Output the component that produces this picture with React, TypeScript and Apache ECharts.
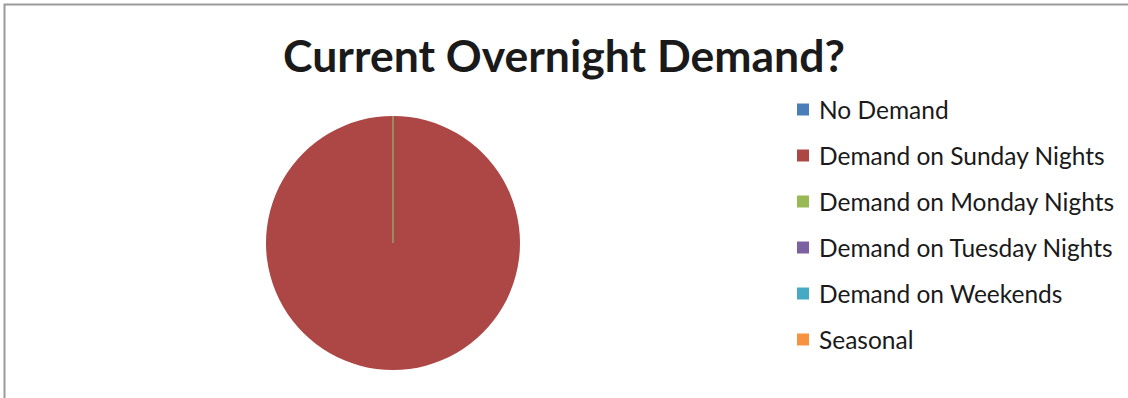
import React, { useEffect, useRef } from "react";
import * as echarts from "echarts";

const titleText = "Current Overnight Demand?";
const categories = [
  "No Demand",
  "Demand on Sunday Nights",
  "Demand on Monday Nights",
  "Demand on Tuesday Nights",
  "Demand on Weekends",
  "Seasonal",
];
const values = [0, 100, 0, 0, 0, 0];
const colors = ["#4A7EBB", "#AD4745", "#98B954", "#7D60A0", "#46AAC5", "#F69240"];

export default function App() {
  const ref = useRef<HTMLDivElement>(null);
  useEffect(() => {
    document.body.style.margin = "0";
    const chart = echarts.init(ref.current!, undefined, { renderer: "svg" });
    chart.setOption({
      animation: false,
      backgroundColor: "#ffffff",
      title: {
        text: titleText,
        left: "center",
        top: 27,
        textStyle: { fontFamily: "Lato", fontWeight: "bold", fontSize: 44.5, color: "#1a1a1a" },
      },
      legend: {
        orient: "vertical",
        left: 797,
        top: 97,
        padding: 0,
        itemWidth: 12,
        itemHeight: 12,
        itemGap: 21,
        icon: "rect",
        itemStyle: { borderWidth: 0 },
        textStyle: { fontFamily: "Lato", fontSize: 24.5, color: "#1a1a1a", padding: [0, 0, 0, 5] },
        data: categories,
      },
      graphic: [
        {
          type: "rect",
          shape: { x: 4.5, y: 4.5, width: 1200, height: 500 },
          style: { fill: "none", stroke: "#9a9a9a", lineWidth: 2 },
          silent: true,
        },
      ],
      series: [
        {
          type: "pie",
          center: [393, 243],
          radius: 127,
          startAngle: 90,
          clockwise: true,
          label: { show: false },
          labelLine: { show: false },
          emphasis: { disabled: true },
          data: categories.map((c, i) => ({
            name: c,
            value: values[i],
            itemStyle: {
              color: colors[i],
              borderColor: values[i] === 0 ? "#9C8A62" : colors[i],
              borderWidth: values[i] === 0 ? 1 : 0,
            },
          })),
        },
      ],
    });
    return () => chart.dispose();
  }, []);
  return <div ref={ref} style={{ width: 1128, height: 398 }} />;
}
